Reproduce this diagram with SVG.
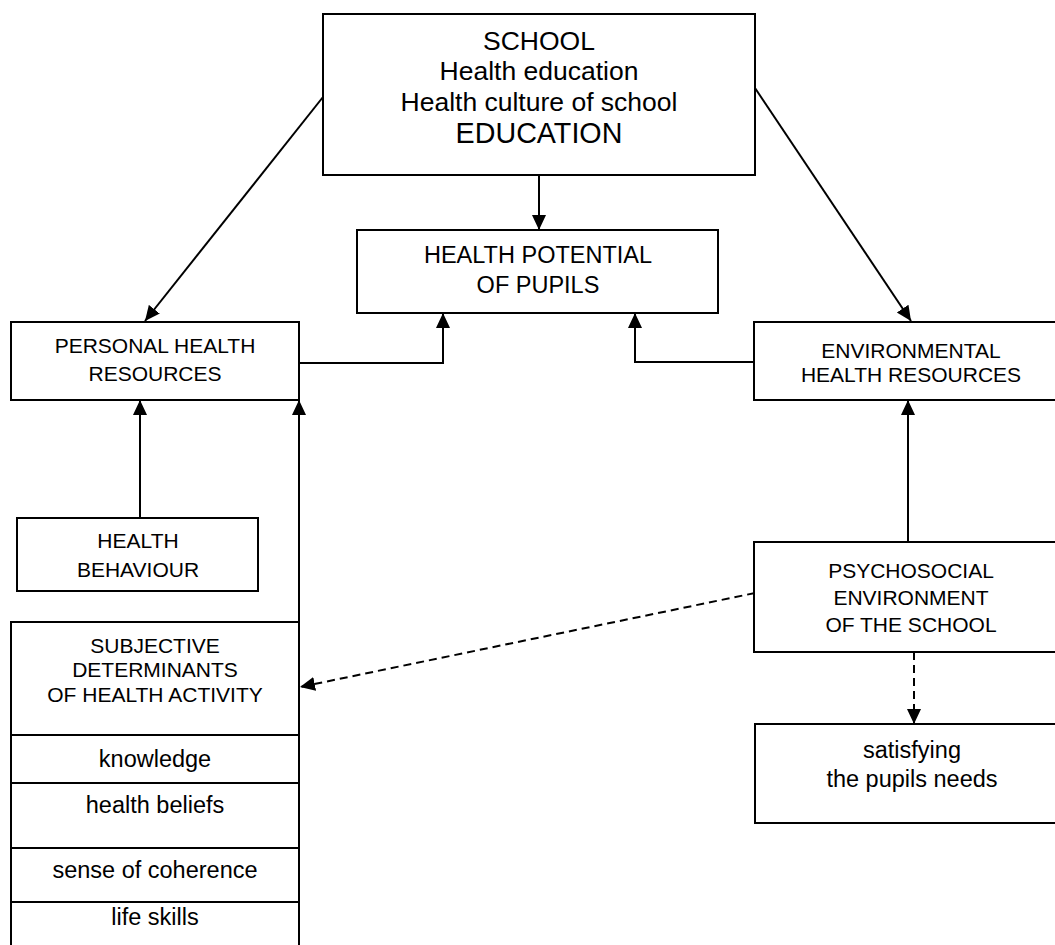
<svg xmlns="http://www.w3.org/2000/svg" width="1055" height="945" viewBox="0 0 1055 945">
<style>
.box{fill:#fff;stroke:#000;stroke-width:2}
.t{font-family:"Liberation Sans",Arial,sans-serif;fill:#000;text-anchor:middle}
.c{fill:none;stroke:#000;stroke-width:2}
.d{stroke-dasharray:8 5}
</style>
<defs>
<marker id="ah" markerUnits="userSpaceOnUse" markerWidth="16" markerHeight="16" refX="15" refY="7" orient="auto" viewBox="0 0 16 14">
<path d="M0,0 L15,7 L0,14 z" fill="#000" stroke="none"/>
</marker>
</defs>
<g id="connectors">
<path class="c" d="M539,175 L539,230" marker-end="url(#ah)"/>
<path class="c" d="M323,97 L145,321" marker-end="url(#ah)"/>
<path class="c" d="M755,88 L911,321" marker-end="url(#ah)"/>
<path class="c" d="M299,363 L443,363 L443,313" marker-end="url(#ah)"/>
<path class="c" d="M754,362 L635,362 L635,313" marker-end="url(#ah)"/>
<path class="c" d="M140,518 L140,400" marker-end="url(#ah)"/>
<path class="c" d="M299,622 L299,400" marker-end="url(#ah)"/>
<path class="c" d="M908,542 L908,400" marker-end="url(#ah)"/>
<path class="c d" d="M755,593 L300,687" marker-end="url(#ah)"/>
<path class="c d" d="M914,652 L914,724" marker-end="url(#ah)"/>
</g>
<g id="school">
<rect class="box" x="323" y="14" width="432" height="161"/>
<text class="t" x="539" y="50" font-size="26.5">SCHOOL</text>
<text class="t" x="539" y="80" font-size="26.5">Health education</text>
<text class="t" x="539" y="111" font-size="26.5">Health culture of school</text>
<text class="t" x="539" y="143" font-size="28.7">EDUCATION</text>
</g>
<g id="potential">
<rect class="box" x="357" y="230" width="361" height="83"/>
<text class="t" x="538" y="263" font-size="23.5">HEALTH POTENTIAL</text>
<text class="t" x="538" y="293" font-size="23.5">OF PUPILS</text>
</g>
<g id="personal">
<rect class="box" x="11" y="322" width="288" height="78"/>
<text class="t" x="155" y="353" font-size="21">PERSONAL HEALTH</text>
<text class="t" x="155" y="381" font-size="21">RESOURCES</text>
</g>
<g id="environmental">
<rect class="box" x="754" y="322" width="314" height="78"/>
<text class="t" x="911" y="358" font-size="21">ENVIRONMENTAL</text>
<text class="t" x="911" y="382" font-size="21">HEALTH RESOURCES</text>
</g>
<g id="behaviour">
<rect class="box" x="17" y="518" width="241" height="73"/>
<text class="t" x="138" y="548" font-size="21">HEALTH</text>
<text class="t" x="138" y="577" font-size="21">BEHAVIOUR</text>
</g>
<g id="subjective">
<rect class="box" x="11" y="622" width="288" height="113"/>
<text class="t" x="155" y="653" font-size="21">SUBJECTIVE</text>
<text class="t" x="155" y="677" font-size="21">DETERMINANTS</text>
<text class="t" x="155" y="702" font-size="21">OF HEALTH ACTIVITY</text>
</g>
<g id="knowledge">
<rect class="box" x="11" y="735" width="288" height="48"/>
<text class="t" x="155" y="767" font-size="23.5">knowledge</text>
</g>
<g id="beliefs">
<rect class="box" x="11" y="783" width="288" height="65"/>
<text class="t" x="155" y="813" font-size="23.5">health beliefs</text>
</g>
<g id="coherence">
<rect class="box" x="11" y="848" width="288" height="54"/>
<text class="t" x="155" y="878" font-size="23.5">sense of coherence</text>
</g>
<g id="lifeskills">
<rect class="box" x="11" y="902" width="288" height="60"/>
<text class="t" x="155" y="925" font-size="23.5">life skills</text>
</g>
<g id="psychosocial">
<rect class="box" x="754" y="542" width="314" height="110"/>
<text class="t" x="911" y="578" font-size="21">PSYCHOSOCIAL</text>
<text class="t" x="911" y="605" font-size="21">ENVIRONMENT</text>
<text class="t" x="911" y="632" font-size="21">OF THE SCHOOL</text>
</g>
<g id="satisfying">
<rect class="box" x="755" y="724" width="313" height="99"/>
<text class="t" x="912" y="758" font-size="23.5">satisfying</text>
<text class="t" x="912" y="787" font-size="23.5">the pupils needs</text>
</g>
</svg>
